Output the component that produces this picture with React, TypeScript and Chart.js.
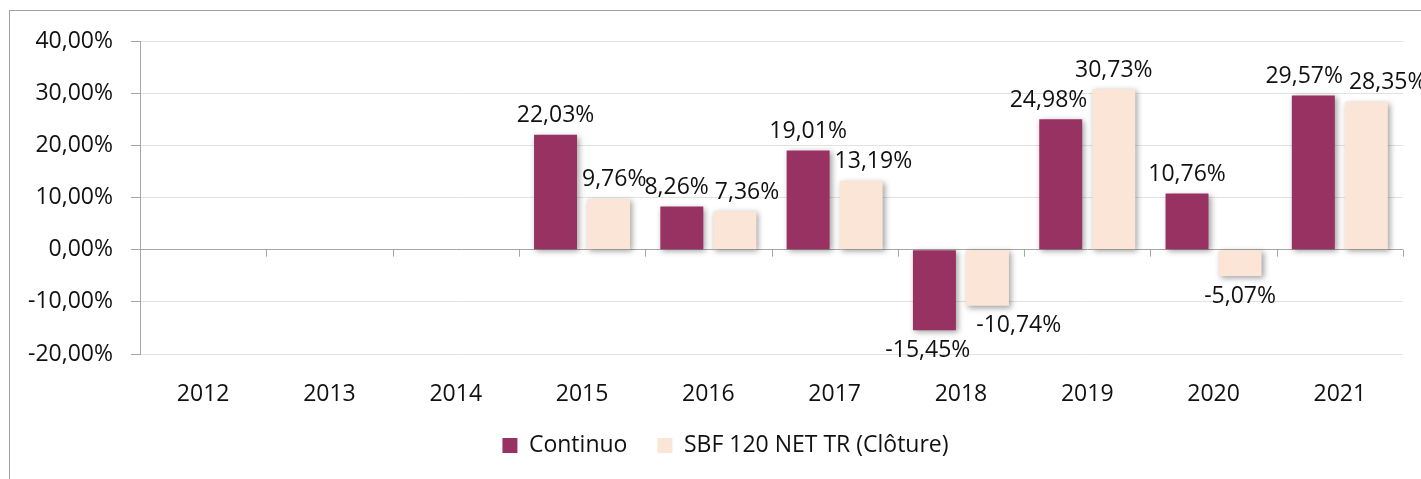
import React, { useEffect, useRef } from "react";
import { Chart, registerables } from "chart.js";

Chart.register(...registerables);

const years = ["2012", "2013", "2014", "2015", "2016", "2017", "2018", "2019", "2020", "2021"];
const continuo = [null, null, null, 22.03, 8.26, 19.01, -15.45, 24.98, 10.76, 29.57];
const sbf120 = [null, null, null, 9.76, 7.36, 13.19, -10.74, 30.73, -5.07, 28.35];
const seriesNames = ["Continuo", "SBF 120 NET TR (Clôture)"];
const yTicks = [-20, -10, 0, 10, 20, 30, 40];

const FONT = "'Open Sans', 'Liberation Sans', sans-serif";
const FS = 23;
const TEXT = "#111111";
const AXIS = "#A6A6A6";
const GRID = "#E2E2E2";

const fmt = (v: number) => v.toFixed(2).replace(".", ",") + "%";

const inBarSpan = (el: any, y: number) => {
  const lo = Math.min(el.y, el.base) - 10;
  const hi = Math.max(el.y, el.base) + 10;
  return y > lo && y < hi;
};

const excelPlugin = {
  id: "excelLook",
  afterLayout(chart: any) {
    const lg = chart.legend;
    if (lg) lg.left = 48;
  },
  beforeDatasetsDraw(chart: any) {
    const { ctx, scales } = chart;
    const x = scales.x;
    const y0 = scales.y.getPixelForValue(0);
    ctx.save();
    ctx.strokeStyle = AXIS;
    ctx.lineWidth = 1;
    ctx.beginPath();
    for (let i = 0; i <= years.length; i++) {
      const px = Math.round(x.getPixelForValue(i - 0.5)) + 0.5;
      ctx.moveTo(px, y0);
      ctx.lineTo(px, y0 + 7);
    }
    ctx.stroke();
    ctx.restore();
    ctx.save();
    ctx.shadowColor = "rgba(0,0,0,0.38)";
    ctx.shadowBlur = 6;
    ctx.shadowOffsetX = 2;
    ctx.shadowOffsetY = 2;
  },
  afterDatasetsDraw(chart: any) {
    const { ctx } = chart;
    ctx.restore();
    ctx.save();
    ctx.font = `${FS}px ${FONT}`;
    ctx.fillStyle = TEXT;
    ctx.textAlign = "center";
    ctx.textBaseline = "middle";
    const m0 = chart.getDatasetMeta(0);
    const m1 = chart.getDatasetMeta(1);
    const d0 = chart.data.datasets[0].data;
    const d1 = chart.data.datasets[1].data;
    for (let i = 0; i < years.length; i++) {
      const items: any[] = [];
      [
        [m0, d0],
        [m1, d1],
      ].forEach(([meta, data]: any) => {
        const v = data[i];
        if (v === null || v === undefined) return;
        const el = meta.data[i];
        const text = fmt(v);
        items.push({
          text,
          el,
          x: el.x,
          y: v >= 0 ? el.y - 19 : el.y + 20,
          w: ctx.measureText(text).width,
        });
      });
      if (items.length === 2) {
        const [a, b] = items;
        const barA = a.el;
        const barB = b.el;
        if (inBarSpan(barA, b.y)) {
          const need = barA.x + barA.width / 2 + 5 - (b.x - b.w / 2);
          if (need > 0) b.x += need;
        }
        if (inBarSpan(barB, a.y)) {
          const need = a.x + a.w / 2 + 5 - (barB.x - barB.width / 2);
          if (need > 0) a.x -= need;
        }
        const overlapX = (a.w + b.w) / 2 + 6 - (b.x - a.x);
        if (overlapX > 0 && Math.abs(a.y - b.y) < 27) {
          a.x -= overlapX * 0.3;
          b.x += overlapX * 0.7;
        }
      }
      items.forEach((it) => ctx.fillText(it.text, it.x, it.y));
    }
    ctx.restore();
  },
};

export default function App() {
  const ref = useRef<HTMLCanvasElement>(null);
  useEffect(() => {
    if (!ref.current) return;
    const chart = new Chart(ref.current, {
      type: "bar",
      data: {
        labels: years,
        datasets: [
          {
            label: seriesNames[0],
            data: continuo,
            backgroundColor: "#983263",
            borderWidth: 0,
            categoryPercentage: 0.84,
            barPercentage: 0.81,
          },
          {
            label: seriesNames[1],
            data: sbf120,
            backgroundColor: "#FBE5D6",
            borderWidth: 0,
            categoryPercentage: 0.84,
            barPercentage: 0.81,
          },
        ],
      },
      options: {
        responsive: false,
        animation: false,
        devicePixelRatio: 1,
        layout: { padding: { left: 20, right: 18, top: 41, bottom: 0 } },
        plugins: {
          legend: {
            position: "bottom",
            labels: {
              boxWidth: 15,
              boxHeight: 15,
              padding: 30,
              color: TEXT,
              font: { family: FONT, size: FS },
            },
          },
          tooltip: { enabled: false },
        },
        scales: {
          x: {
            grid: { display: false },
            border: { display: false },
            ticks: { color: TEXT, padding: 19, font: { family: FONT, size: FS } },
            afterFit: (s: any) => {
              s.height = 50;
            },
          },
          y: {
            min: yTicks[0],
            max: yTicks[yTicks.length - 1],
            afterBuildTicks: (s: any) => {
              s.ticks = yTicks.map((v) => ({ value: v }));
            },
            grid: {
              color: (c: any) => (c.tick && c.tick.value === 0 ? AXIS : GRID),
              tickColor: AXIS,
              tickLength: 9,
              drawTicks: true,
            },
            border: { display: true, color: AXIS, width: 1 },
            ticks: {
              color: TEXT,
              padding: 18,
              font: { family: FONT, size: FS },
              callback: (v: any) => fmt(Number(v)),
            },
            afterFit: (s: any) => {
              s.width = 120;
            },
          },
        },
      },
      plugins: [excelPlugin],
    });
    return () => chart.destroy();
  }, []);

  return (
    <div
      style={{
        position: "absolute",
        left: 0,
        top: 0,
        width: 1421,
        height: 479,
        overflow: "hidden",
        background: "#fff",
      }}
    >
      <div
        style={{
          position: "absolute",
          left: 9,
          top: 10,
          width: 1600,
          height: 700,
          border: "1.5px solid #A0A0A0",
        }}
      />
      <canvas
        ref={ref}
        width={1421}
        height={467}
        style={{ position: "absolute", left: 0, top: 0, width: 1421, height: 467 }}
      />
    </div>
  );
}
